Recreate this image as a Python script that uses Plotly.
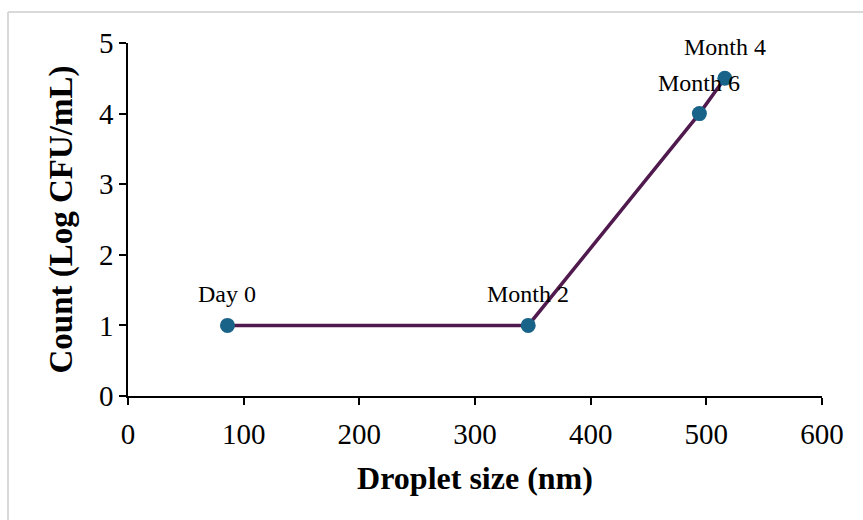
import plotly.graph_objects as go

droplet_size = [86, 346, 494, 516]
log_count = [1.0, 1.0, 4.0, 4.5]
labels = ["Day 0", "Month 2", "Month 6", "Month 4"]

x_ticks = [0, 100, 200, 300, 400, 500, 600]
y_ticks = [0, 1, 2, 3, 4, 5]

font_family = "Liberation Serif, Times New Roman, serif"

fig = go.Figure()
fig.add_trace(go.Scatter(
    x=droplet_size, y=log_count, mode="lines+markers",
    line=dict(color="#511a4e", width=3.5),
    marker=dict(color="#186387", size=15),
    cliponaxis=False, showlegend=False,
))

for xv, yv, lab in zip(droplet_size, log_count, labels):
    fig.add_annotation(
        x=xv, y=yv, text=lab, showarrow=False,
        xanchor="center", yanchor="middle", yshift=31,
        font=dict(family=font_family, size=24, color="#000000"),
    )

L, R, T, B = 128, 41, 43, 124
W, H = 863, 520
pw, ph = W - L - R, H - T - B

def px_x(p):
    return (p - L) / pw

def px_y(p):
    return (H - B - p) / ph

fig.update_layout(
    width=W, height=H,
    margin=dict(l=L, r=R, t=T, b=B),
    paper_bgcolor="white", plot_bgcolor="white",
    font=dict(family=font_family, color="#000000"),
    xaxis=dict(
        range=[0, 600], tickvals=x_ticks, ticks="outside", ticklen=7,
        tickwidth=1.5, tickcolor="black", showline=True, linecolor="black",
        linewidth=1.5, showgrid=False, zeroline=False,
        tickfont=dict(family=font_family, size=29), ticklabelstandoff=4,
        title=dict(text="<b>Droplet size (nm)</b>", font=dict(family=font_family, size=32), standoff=18),
    ),
    yaxis=dict(
        range=[0, 5], tickvals=y_ticks, ticks="outside", ticklen=7,
        tickwidth=1.5, tickcolor="black", showline=True, linecolor="black",
        linewidth=1.5, showgrid=False, zeroline=False,
        tickfont=dict(family=font_family, size=29),
        title=dict(text="<b>Count (Log CFU/mL)</b>", font=dict(family=font_family, size=33), standoff=16),
    ),
    shapes=[
        dict(type="line", xref="paper", yref="paper",
             x0=px_x(8), y0=px_y(12), x1=px_x(863), y1=px_y(12),
             line=dict(color="#d9d9d9", width=2)),
        dict(type="line", xref="paper", yref="paper",
             x0=px_x(8), y0=px_y(12), x1=px_x(8), y1=px_y(520),
             line=dict(color="#d9d9d9", width=2)),
    ],
)

fig.write_html("out.html")
